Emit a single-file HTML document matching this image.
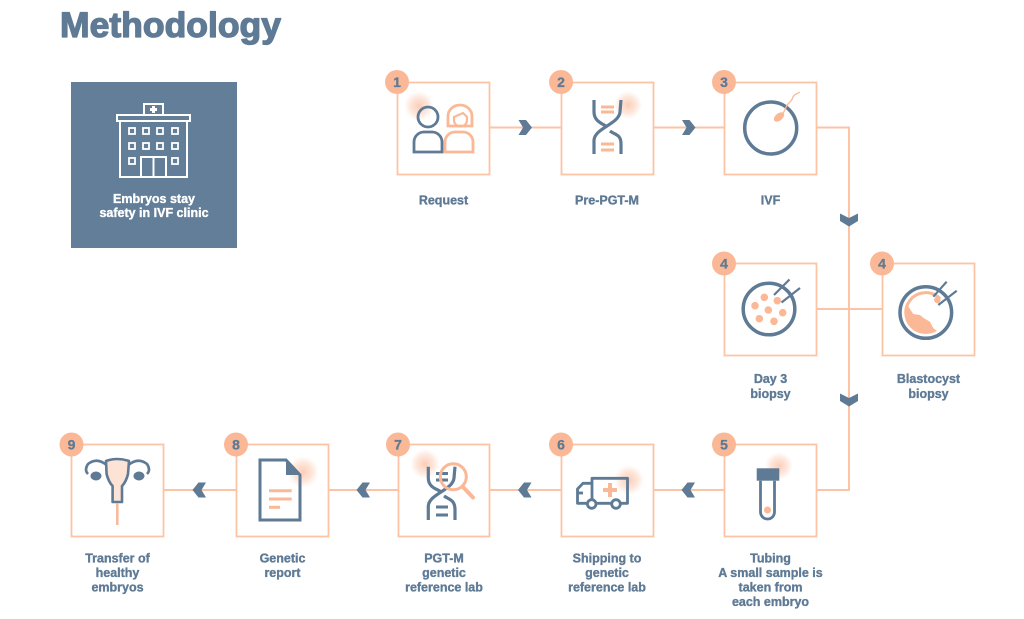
<!DOCTYPE html>
<html>
<head>
<meta charset="utf-8">
<style>
  html,body{margin:0;padding:0;background:#fff;}
  svg{display:block;}
  text{font-family:"Liberation Sans",sans-serif;font-weight:bold;}
</style>
</head>
<body>
<svg width="1024" height="619" viewBox="0 0 1024 619" xmlns="http://www.w3.org/2000/svg">
  <defs>
    <radialGradient id="halo" cx="50%" cy="50%" r="50%">
      <stop offset="0%" stop-color="#f7a47c" stop-opacity="0.55"/>
      <stop offset="60%" stop-color="#f9b08c" stop-opacity="0.3"/>
      <stop offset="100%" stop-color="#fbc0a2" stop-opacity="0"/>
    </radialGradient>
    <clipPath id="blastClip"><circle cx="43.8" cy="49.5" r="21.5"/></clipPath>
  </defs>

  <rect width="1024" height="619" fill="#fff"/>

  <!-- Title -->
  <text x="60" y="37" font-size="35" fill="#5e7a95" stroke="#5e7a95" stroke-width="1.3" stroke-linejoin="round" textLength="221" lengthAdjust="spacingAndGlyphs">Methodology</text>

  <!-- Hospital box -->
  <rect x="71" y="82" width="166" height="166" fill="#627e98"/>
  <g fill="none" stroke="#fff" stroke-width="2">
    <rect x="144" y="104" width="19" height="11"/>
    <rect x="117" y="115" width="73" height="6"/>
    <rect x="120" y="121" width="67" height="56"/>
    <g stroke-width="1.8">
      <rect x="129" y="128" width="6" height="6"/>
      <rect x="143" y="128" width="6" height="6"/>
      <rect x="157" y="128" width="6" height="6"/>
      <rect x="172" y="128" width="6" height="6"/>
      <rect x="129" y="143" width="6" height="6"/>
      <rect x="143" y="143" width="6" height="6"/>
      <rect x="157" y="143" width="6" height="6"/>
      <rect x="172" y="143" width="6" height="6"/>
      <rect x="129" y="158" width="6" height="6"/>
      <rect x="172" y="158" width="6" height="6"/>
    </g>
    <rect x="141" y="157" width="25" height="20"/>
    <line x1="153.5" y1="157" x2="153.5" y2="177"/>
  </g>
  <g fill="#fff">
    <rect x="152" y="106" width="3" height="7"/>
    <rect x="150" y="108" width="7" height="3"/>
  </g>
  <g font-size="12.5" fill="#fff" stroke="#fff" stroke-width="0.35" text-anchor="middle">
    <text x="154" y="203">Embryos stay</text>
    <text x="154" y="217">safety in IVF clinic</text>
  </g>

  <!-- Connectors -->
  <g stroke="#fcc3a5" stroke-width="2" fill="none">
    <line x1="489" y1="127.5" x2="561" y2="127.5"/>
    <line x1="653" y1="127.5" x2="724" y2="127.5"/>
    <polyline points="816,127.5 849,127.5 849,490 816,490"/>
    <line x1="816" y1="309" x2="882" y2="309"/>
    <line x1="653" y1="490" x2="724" y2="490"/>
    <line x1="490" y1="490" x2="561" y2="490"/>
    <line x1="328" y1="490" x2="398" y2="490"/>
    <line x1="163" y1="490" x2="236" y2="490"/>
  </g>

  <!-- Chevrons -->
  <g fill="#5e7a95">
    <polygon transform="translate(525,127.5)" points="-6.5,-7.5 1,-7.5 7,0 1,7.5 -6.5,7.5 -2,0"/>
    <polygon transform="translate(688.5,127.5)" points="-6.5,-7.5 1,-7.5 7,0 1,7.5 -6.5,7.5 -2,0"/>
    <polygon transform="translate(849,220)" points="-9,-6.5 0,-2 9,-6.5 9,1 0,6.5 -9,1"/>
    <polygon transform="translate(849,400)" points="-9,-6.5 0,-2 9,-6.5 9,1 0,6.5 -9,1"/>
    <polygon transform="translate(688.5,490)" points="6.5,-7.5 -1,-7.5 -7,0 -1,7.5 6.5,7.5 2,0"/>
    <polygon transform="translate(525,490)" points="6.5,-7.5 -1,-7.5 -7,0 -1,7.5 6.5,7.5 2,0"/>
    <polygon transform="translate(363.5,490)" points="6.5,-7.5 -1,-7.5 -7,0 -1,7.5 6.5,7.5 2,0"/>
    <polygon transform="translate(199.5,490)" points="6.5,-7.5 -1,-7.5 -7,0 -1,7.5 6.5,7.5 2,0"/>
  </g>

  <!-- Boxes -->
  <g fill="#fff" stroke="#fcc3a5" stroke-width="1.8">
    <rect x="397.5" y="82.5" width="92" height="92"/>
    <rect x="561.5" y="82.5" width="92" height="92"/>
    <rect x="724.5" y="82.5" width="92" height="92"/>
    <rect x="724.5" y="263.5" width="92" height="92"/>
    <rect x="882.5" y="263.5" width="92" height="92"/>
    <rect x="71.5" y="444.5" width="92" height="92"/>
    <rect x="236.5" y="444.5" width="92" height="92"/>
    <rect x="398.5" y="444.5" width="91" height="92"/>
    <rect x="561.5" y="444.5" width="92" height="92"/>
    <rect x="724.5" y="444.5" width="92" height="92"/>
  </g>

  <!-- Box 1: Request -->
  <g transform="translate(397,82)">
    <circle cx="22" cy="24" r="15" fill="url(#halo)"/>
    <g fill="none" stroke="#5e7a95" stroke-width="2.8">
      <circle cx="31" cy="35" r="10"/>
      <path d="M17,70 V60 A10,10 0 0 1 27,50 H35 A10,10 0 0 1 45,60 V70 Z"/>
    </g>
    <g fill="none" stroke="#fbb896" stroke-width="2.8">
      <path d="M48,70 V60 A10,10 0 0 1 58,50 H66 A10,10 0 0 1 76,60 V70 Z"/>
      <path d="M51,44 V34 A12,11 0 0 1 75,34 V44 Z"/>
      <path d="M57,35 L66,31 L70,35 V38 A6.5,6.5 0 0 1 57,38 Z" stroke-width="2.2"/>
    </g>
  </g>

  <!-- Box 2: DNA -->
  <g transform="translate(561,82)">
    <circle cx="67" cy="23" r="14" fill="url(#halo)"/>
    <g fill="none" stroke-width="3" stroke="#fbb896">
      <line x1="40" y1="25" x2="53" y2="25"/>
      <line x1="40" y1="30" x2="53" y2="30"/>
      <line x1="40" y1="62" x2="53" y2="62"/>
      <line x1="40" y1="68" x2="53" y2="68"/>
    </g>
    <g fill="none" stroke="#5e7a95" stroke-width="3.2" stroke-linecap="butt">
      <path d="M33,18 L33,30 C33,40 43,42 46,45"/>
      <path d="M49,49 C54,53 60,52 60,62 L60,72"/>
      <path d="M60,18 L59,30 C58,42 34,46 33,58 L33,72"/>
    </g>
  </g>

  <!-- Box 3: IVF -->
  <g transform="translate(724,82)">
    <circle cx="46.7" cy="46" r="26" fill="none" stroke="#5e7a95" stroke-width="3.5"/>
    <ellipse cx="55" cy="35" rx="6" ry="3.6" transform="rotate(-40 55 35)" fill="#fbb896"/>
    <path d="M59,31 C62,28 61,25 64,22 C67,19 68,18 69,15 C70,12 73,12 76,10" fill="none" stroke="#fbb896" stroke-width="1.3"/>
  </g>

  <!-- Day 3 biopsy -->
  <g transform="translate(724,263)">
    <circle cx="45" cy="46" r="25.8" fill="none" stroke="#5e7a95" stroke-width="3.5"/>
    <g fill="#fbb896">
      <circle cx="31" cy="42.7" r="3.8"/>
      <circle cx="40.3" cy="34.3" r="3.8"/>
      <circle cx="53.3" cy="37.7" r="3.8"/>
      <circle cx="44.3" cy="47" r="3.8"/>
      <circle cx="58.7" cy="49.7" r="3.8"/>
      <circle cx="35.3" cy="55.7" r="3.8"/>
      <circle cx="50" cy="58.3" r="3.8"/>
    </g>
    <g stroke="#5e7a95" stroke-width="2.2">
      <line x1="50" y1="32" x2="65.5" y2="16.5"/>
      <line x1="57.5" y1="39.5" x2="76" y2="25"/>
    </g>
  </g>

  <!-- Blastocyst biopsy -->
  <g transform="translate(882,263)">
    <g clip-path="url(#blastClip)">
      <polygon points="18,22 23,38.7 31.3,51 38,52 42,55.3 48,58.7 51.3,65.3 58,70.3 72,82 10,82 10,22" fill="#fbb896"/>
    </g>
    <path d="M23.8,49.5 A20,20 0 0 1 58,35.5" fill="none" stroke="#fbb896" stroke-width="3"/>
    <circle cx="55.3" cy="37" r="3.2" fill="#fbb896"/>
    <circle cx="43.8" cy="49.5" r="25.8" fill="none" stroke="#5e7a95" stroke-width="3.5"/>
    <g stroke="#5e7a95" stroke-width="2.2">
      <line x1="51.3" y1="33.7" x2="64.7" y2="18.7"/>
      <line x1="56.3" y1="42" x2="74.7" y2="27.7"/>
    </g>
  </g>

  <!-- Box 5: Tubing -->
  <g transform="translate(724,444)">
    <circle cx="55" cy="22" r="14" fill="url(#halo)"/>
    <rect x="32.7" y="24.3" width="22.6" height="12.4" fill="#5e7a95"/>
    <path d="M36.5,36.7 V68 A7,7 0 0 0 50.5,68 V36.7" fill="none" stroke="#5e7a95" stroke-width="2.8"/>
    <circle cx="43.5" cy="66" r="3.5" fill="#fbb896"/>
  </g>

  <!-- Box 6: Shipping -->
  <g transform="translate(561,444)">
    <circle cx="68" cy="36" r="15" fill="url(#halo)"/>
    <g fill="none" stroke="#5e7a95" stroke-width="2.8" stroke-linejoin="round">
      <rect x="31" y="34.3" width="35.5" height="25"/>
      <path d="M31,59.3 H16.5 V45 L22,39.3 H31"/>
      <line x1="16.5" y1="49" x2="22" y2="49"/>
    </g>
    <g fill="#fff" stroke="#5e7a95" stroke-width="2.8">
      <circle cx="30.7" cy="60" r="4.3"/>
      <circle cx="55" cy="60" r="4.3"/>
    </g>
    <g fill="#fbb896">
      <rect x="47" y="39" width="4" height="14"/>
      <rect x="42" y="44" width="14" height="4"/>
    </g>
  </g>

  <!-- Box 7: PGT-M lab -->
  <g transform="translate(398,444)">
    <circle cx="27" cy="20" r="15" fill="url(#halo)"/>
    <g fill="none" stroke="#5e7a95" stroke-width="3">
      <line x1="38" y1="29.5" x2="50" y2="29.5"/>
      <line x1="38" y1="36" x2="50" y2="36"/>
      <line x1="38" y1="63" x2="50" y2="63"/>
      <line x1="38" y1="71" x2="50" y2="71"/>
    </g>
    <g fill="none" stroke="#5e7a95" stroke-width="3.2">
      <path d="M30.3,22.7 L30.3,34 C30.3,44 40,45 43,48"/>
      <path d="M46,52 C52,56 57,56 57,66 L57,76"/>
      <path d="M57,22.7 L56,34 C55,46 31,50 30.3,62 L30.3,76"/>
    </g>
    <circle cx="55.3" cy="32.7" r="13" fill="none" stroke="#fbb896" stroke-width="3"/>
    <line x1="64.5" y1="42.5" x2="75" y2="53.5" stroke="#fbb896" stroke-width="4" stroke-linecap="round"/>
  </g>

  <!-- Box 8: Genetic report -->
  <g transform="translate(236,444)">
    <circle cx="67" cy="28" r="16" fill="url(#halo)"/>
    <path d="M24,16 H50 L64,31 V76 H24 Z" fill="none" stroke="#5e7a95" stroke-width="3" stroke-linejoin="miter"/>
    <polygon points="50,16 64,31 50,31" fill="#5e7a95"/>
    <g stroke="#fbb896" stroke-width="3">
      <line x1="33" y1="46.7" x2="55.7" y2="46.7"/>
      <line x1="33" y1="55" x2="55.7" y2="55"/>
      <line x1="33" y1="63.3" x2="44" y2="63.3"/>
    </g>
  </g>

  <!-- Box 9: Transfer -->
  <g transform="translate(71,444)">
    <path d="M36,18 Q46,14 57,18 L56,30 Q54,37 50,41 V57 H42 V41 Q38,37 36,30 Z" fill="#fde3d5" stroke="none"/>
    <g fill="none" stroke="#5e7a95" stroke-width="2.6" stroke-linejoin="round">
      <path d="M35,17 Q46,13 58,17 L57,30 Q55,38 51,42 V58 H41.6 V42 Q37.6,38 35.6,30 Z"/>
      <path d="M35.5,21 Q26,13 17,20 Q13,26 17,30"/>
      <path d="M57.5,21 Q67,13 76,20 Q80,26 76,30"/>
    </g>
    <g fill="#5e7a95">
      <ellipse cx="25" cy="32" rx="5.5" ry="4.5"/>
      <ellipse cx="68" cy="32" rx="5.5" ry="4.5"/>
    </g>
    <line x1="46.3" y1="59" x2="46.3" y2="81" stroke="#fbb896" stroke-width="2.5"/>
  </g>

  <!-- Badges -->
  <g fill="#fbb896">
    <circle cx="397" cy="82" r="12"/>
    <circle cx="561" cy="82" r="12"/>
    <circle cx="724" cy="82" r="12"/>
    <circle cx="724" cy="263.5" r="12"/>
    <circle cx="882" cy="263.5" r="12"/>
    <circle cx="71.5" cy="444.5" r="12"/>
    <circle cx="236" cy="444.5" r="12"/>
    <circle cx="398" cy="444.5" r="12"/>
    <circle cx="561" cy="444.5" r="12"/>
    <circle cx="724" cy="444.5" r="12"/>
  </g>
  <g font-size="14" fill="#5e7a95" stroke="#5e7a95" stroke-width="0.3" text-anchor="middle">
    <text x="397" y="87">1</text>
    <text x="561" y="87">2</text>
    <text x="724" y="87">3</text>
    <text x="724" y="268.5">4</text>
    <text x="882" y="268.5">4</text>
    <text x="71.5" y="449.5">9</text>
    <text x="236" y="449.5">8</text>
    <text x="398" y="449.5">7</text>
    <text x="561" y="449.5">6</text>
    <text x="724" y="449.5">5</text>
  </g>

  <!-- Labels -->
  <g font-size="12.5" fill="#5e7a95" stroke="#5e7a95" stroke-width="0.35" text-anchor="middle">
    <text x="443.5" y="204.5">Request</text>
    <text x="607" y="204.5">Pre-PGT-M</text>
    <text x="770.5" y="204.5">IVF</text>

    <text x="770.5" y="383">Day 3</text>
    <text x="770.5" y="398">biopsy</text>
    <text x="928.5" y="383">Blastocyst</text>
    <text x="928.5" y="398">biopsy</text>

    <text x="117.5" y="562.5">Transfer of</text>
    <text x="117.5" y="577">healthy</text>
    <text x="117.5" y="591.5">embryos</text>

    <text x="282.5" y="562.5">Genetic</text>
    <text x="282.5" y="577">report</text>

    <text x="444" y="562.5">PGT-M</text>
    <text x="444" y="577">genetic</text>
    <text x="444" y="591.5">reference lab</text>

    <text x="607" y="562.5">Shipping to</text>
    <text x="607" y="577">genetic</text>
    <text x="607" y="591.5">reference lab</text>

    <text x="770.5" y="562.5">Tubing</text>
    <text x="770.5" y="577">A small sample is</text>
    <text x="770.5" y="591.5">taken from</text>
    <text x="770.5" y="606">each embryo</text>
  </g>
</svg>
</body>
</html>
